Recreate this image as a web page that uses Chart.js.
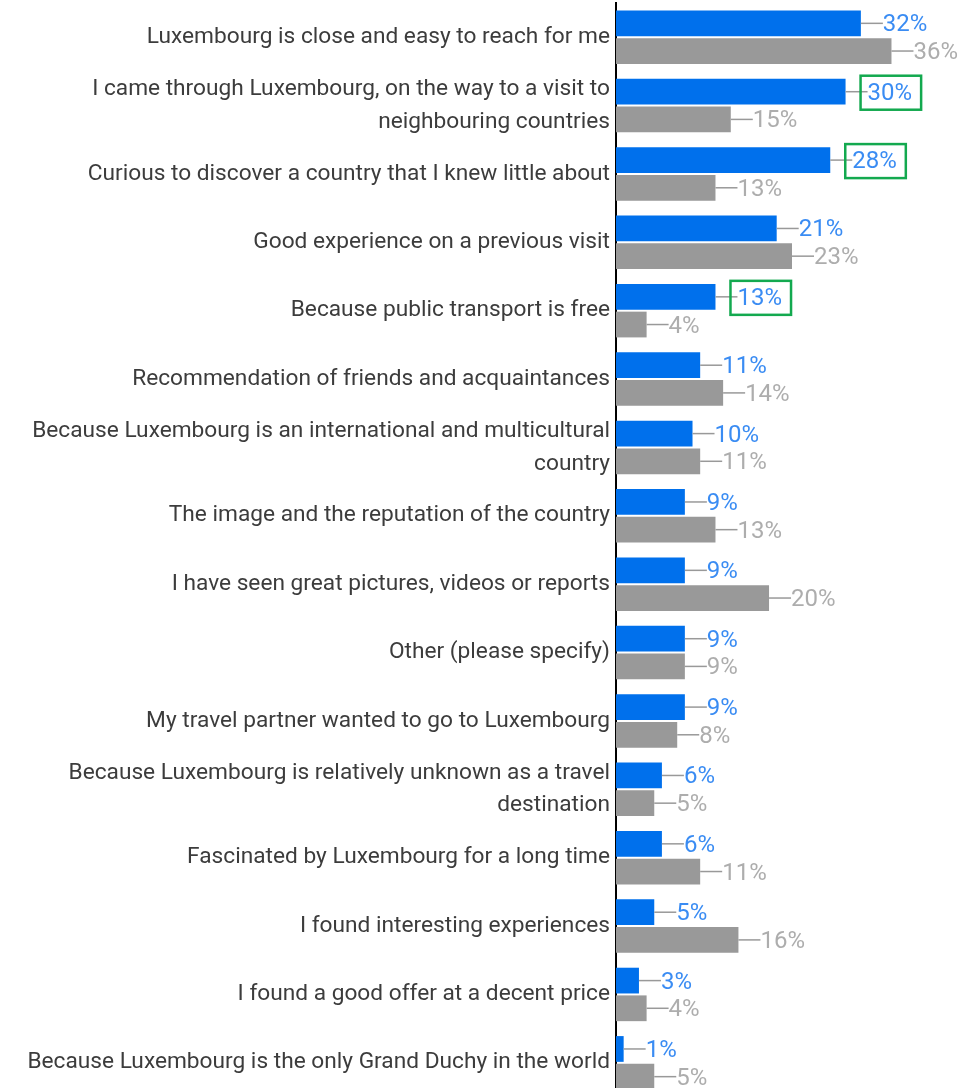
<!DOCTYPE html>
<html>
<head>
<meta charset="utf-8">
<script src="https://cdn.jsdelivr.net/npm/chart.js@4.4.1/dist/chart.umd.min.js"></script>
<style>
  html, body { margin: 0; padding: 0; overflow: hidden; background: #fff; }
  #wrap { position: absolute; left: 0; top: 0; width: 968px; height: 1100px; }
</style>
</head>
<body>
<div id="wrap"><canvas id="reasonsChart"></canvas></div>
<script>
const reasons = [
    'Luxembourg is close and easy to reach for me',
    ['I came through Luxembourg, on the way to a visit to', 'neighbouring countries'],
    'Curious to discover a country that I knew little about',
    'Good experience on a previous visit',
    'Because public transport is free',
    'Recommendation of friends and acquaintances',
    ['Because Luxembourg is an international and multicultural', 'country'],
    'The image and the reputation of the country',
    'I have seen great pictures, videos or reports',
    'Other (please specify)',
    'My travel partner wanted to go to Luxembourg',
    ['Because Luxembourg is relatively unknown as a travel', 'destination'],
    'Fascinated by Luxembourg for a long time',
    'I found interesting experiences',
    'I found a good offer at a decent price',
    'Because Luxembourg is the only Grand Duchy in the world'
];
const blueValues = [32, 30, 28, 21, 13, 11, 10, 9, 9, 9, 9, 6, 6, 5, 3, 1];
const greyValues = [36, 15, 13, 23, 4, 14, 11, 13, 20, 9, 8, 5, 11, 16, 4, 5];
// rows of the blue series whose value gets a green frame
const framedBlue = [1, 2, 4];

const labelColors = ['#3a8cf3', '#adadad'];

// leader line + percentage next to each bar
const valueLabels = {
    id: 'valueLabels',
    afterDatasetsDraw(chart) {
        let ctx = chart.ctx;
        ctx.save();
        ctx.font = '24px Roboto';
        ctx.textBaseline = 'middle';
        ctx.textAlign = 'left';
        chart.data.datasets.forEach((ds, di) => {
            chart.getDatasetMeta(di).data.forEach((bar, i) => {
                let x = bar.x, y = bar.y;
                ctx.strokeStyle = '#999999';
                ctx.lineWidth = 1.5;
                ctx.beginPath();
                ctx.moveTo(x, y);
                ctx.lineTo(x + 22, y);
                ctx.stroke();
                let text = ds.data[i] + '%';
                ctx.fillStyle = labelColors[di];
                ctx.fillText(text, x + 22, y + 2);
                if (di === 0 && framedBlue.includes(i)) {
                    let w = ctx.measureText(text).width;
                    ctx.strokeStyle = '#13a94f';
                    ctx.lineWidth = 2.5;
                    ctx.strokeRect(x + 15, y - 16, w + 16, 34);
                }
            });
        });
        ctx.restore();
    }
};

let ctx = document.getElementById('reasonsChart').getContext('2d');
let myChart = new Chart(ctx, {
    type: 'bar',
    data: {
        labels: reasons,
        datasets: [
            {
                label: 'Blue',
                data: blueValues,
                backgroundColor: '#0070ec',
            }, {
                label: 'Grey',
                data: greyValues,
                backgroundColor: '#999999',
            }
        ]
    },
    options: {
        indexAxis: 'y',
        responsive: true,
        maintainAspectRatio: false,
        animation: false,
        categoryPercentage: 0.81,
        barPercentage: 0.93,
        layout: { padding: { top: 3, bottom: 3, left: 0, right: 0 } },
        plugins: {
            legend: { display: false },
            tooltip: { enabled: false }
        },
        scales: {
            x: {
                display: false,
                min: 0,
                max: 46
            },
            y: {
                grid: { display: false, drawTicks: false },
                border: { display: true, color: '#000000', width: 2 },
                ticks: {
                    color: '#3c3c3c',
                    padding: 6,
                    autoSkip: false,
                    font: { family: 'Roboto', size: 22.7, lineHeight: 1.45 }
                },
                afterFit(scale) {
                    // fixed label column; labels sit mid-row so no extra edge padding
                    scale.width = 616;
                    scale.paddingTop = 0;
                    scale.paddingBottom = 0;
                }
            }
        }
    },
    plugins: [valueLabels]
});
</script>
</body>
</html>
